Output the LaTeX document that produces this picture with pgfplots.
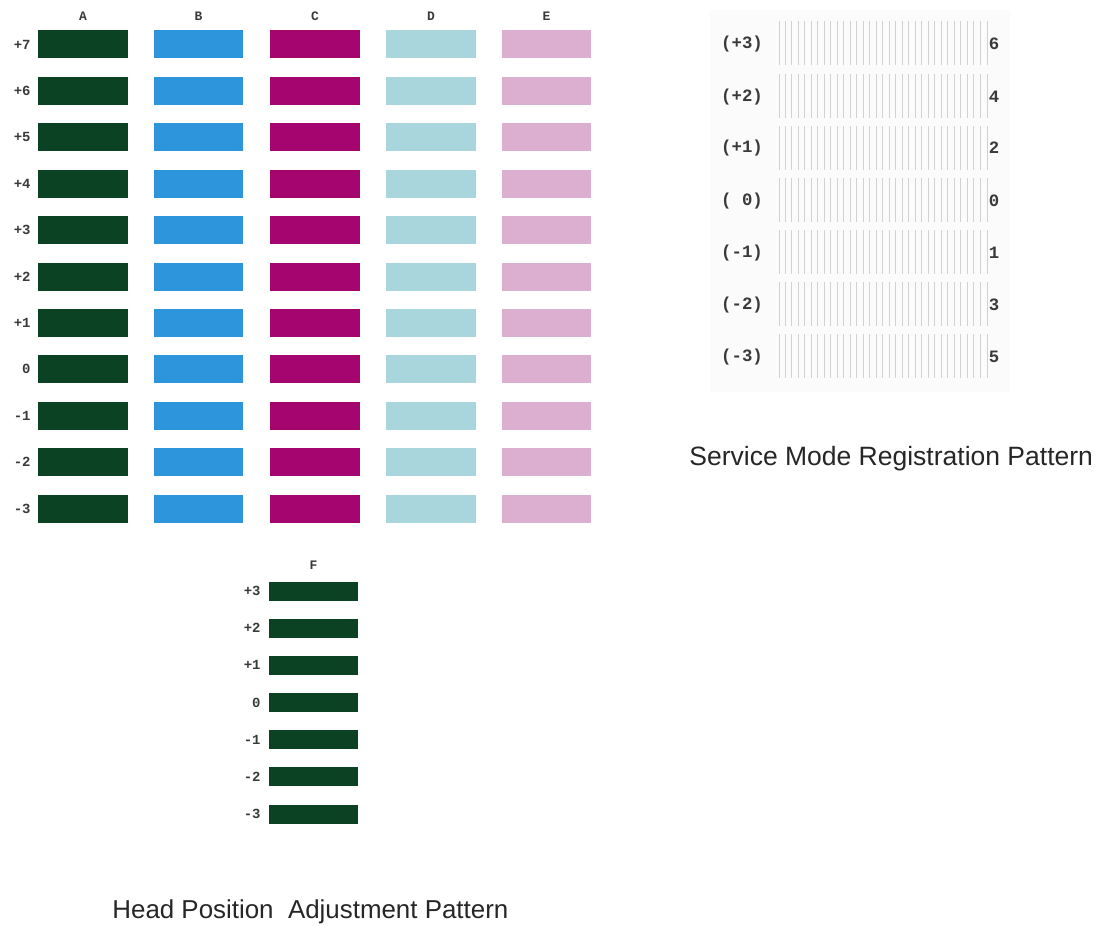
\documentclass[border=0pt]{standalone}
\usepackage{pgfplots}
\pgfplotsset{compat=1.18}
\usepackage{pgfplotstable}
\usepackage{fontspec}
\setmainfont{Liberation Sans}
\newfontfamily\monof{Liberation Mono}
\definecolor{colA}{HTML}{0C4224}
\definecolor{colB}{HTML}{2D95DC}
\definecolor{colC}{HTML}{A5056F}
\definecolor{colD}{HTML}{A9D5DC}
\definecolor{colE}{HTML}{DCAECF}
\definecolor{lbl}{HTML}{3A3A3A}

% bar centres (pixel units of the reference picture)
\pgfplotstableread{
x y
83 44.5
83 90.9
83 137.3
83 183.7
83 230.1
83 276.5
83 322.9
83 369.3
83 415.7
83 462.1
83 508.5
}\colAtab
\pgfplotstableread{
x y
198.5 44.5
198.5 90.9
198.5 137.3
198.5 183.7
198.5 230.1
198.5 276.5
198.5 322.9
198.5 369.3
198.5 415.7
198.5 462.1
198.5 508.5
}\colBtab
\pgfplotstableread{
x y
315 44.5
315 90.9
315 137.3
315 183.7
315 230.1
315 276.5
315 322.9
315 369.3
315 415.7
315 462.1
315 508.5
}\colCtab
\pgfplotstableread{
x y
431 44.5
431 90.9
431 137.3
431 183.7
431 230.1
431 276.5
431 322.9
431 369.3
431 415.7
431 462.1
431 508.5
}\colDtab
\pgfplotstableread{
x y
546.5 44.5
546.5 90.9
546.5 137.3
546.5 183.7
546.5 230.1
546.5 276.5
546.5 322.9
546.5 369.3
546.5 415.7
546.5 462.1
546.5 508.5
}\colEtab
\pgfplotstableread{
x y
313.5 591
313.5 628.2
313.5 665.3
313.5 702.5
313.5 739.7
313.5 776.8
313.5 814
}\colFtab
\pgfplotstableread{
x h
779 22
785 22
791 22
798 22
804 22
811 22
817 22
824 22
830 22
837 22
843 22
850 22
856 22
863 22
869 22
876 22
882 22
889 22
895 22
902 22
908 22
915 22
921 22
928 22
934 22
941 22
947 22
954 22
960 22
967 22
973 22
980 22
987 22
}\svclines

\tikzset{
  hdr/.style={text=lbl, font=\monof\bfseries\fontsize{6.5}{7}\selectfont},
  rl/.style={anchor=east, inner sep=0pt, text=lbl, font=\monof\bfseries\fontsize{7}{8}\selectfont},
  sl/.style={text=lbl, font=\monof\bfseries\fontsize{8.7}{10}\selectfont},
}

\begin{document}
\begin{tikzpicture}
\begin{axis}[
  scale only axis, width=551bp, height=463.5bp,
  xmin=0, xmax=1102, ymin=0, ymax=927, y dir=reverse,
  hide axis, clip=false,
]
% invisible frame
\path (axis cs:0,0) rectangle (axis cs:1102,927);

% service-mode panel background
\addplot[fill=black!1.5, draw=none] coordinates {(710,10) (1010,10) (1010,392) (710,392)} -- cycle;

% service-mode line patterns
\pgfplotsinvokeforeach{43,96,148,200,252,304,356}{
  \addplot[draw=none, mark=none, forget plot,
    error bars/.cd, y dir=both, y explicit, error mark=none,
    error bar style={draw=black!18, line width=0.5bp}]
    table[x=x, y expr=#1, y error=h]{\svclines};
}

% bars A-E
\addplot[only marks, mark=square*, mark size=6.75bp,
  mark options={xscale=3.26, fill=colA, draw=colA, line width=0pt}] table[x=x,y=y]{\colAtab};
\addplot[only marks, mark=square*, mark size=6.75bp,
  mark options={xscale=3.26, fill=colB, draw=colB, line width=0pt}] table[x=x,y=y]{\colBtab};
\addplot[only marks, mark=square*, mark size=6.75bp,
  mark options={xscale=3.26, fill=colC, draw=colC, line width=0pt}] table[x=x,y=y]{\colCtab};
\addplot[only marks, mark=square*, mark size=6.75bp,
  mark options={xscale=3.26, fill=colD, draw=colD, line width=0pt}] table[x=x,y=y]{\colDtab};
\addplot[only marks, mark=square*, mark size=6.75bp,
  mark options={xscale=3.26, fill=colE, draw=colE, line width=0pt}] table[x=x,y=y]{\colEtab};
% bars F
\addplot[only marks, mark=square*, mark size=4.5bp,
  mark options={xscale=4.94, fill=colA, draw=colA, line width=0pt}] table[x=x,y=y]{\colFtab};

% column headers
\node[hdr] at (axis cs:83,16) {A};
\node[hdr] at (axis cs:198.5,16) {B};
\node[hdr] at (axis cs:315,16) {C};
\node[hdr] at (axis cs:431,16) {D};
\node[hdr] at (axis cs:546.5,16) {E};
\node[hdr] at (axis cs:313.5,565) {F};

% row labels A-E
\node[rl] at (axis cs:31,44.5) {+7};
\node[rl] at (axis cs:31,90.9) {+6};
\node[rl] at (axis cs:31,137.3) {+5};
\node[rl] at (axis cs:31,183.7) {+4};
\node[rl] at (axis cs:31,230.1) {+3};
\node[rl] at (axis cs:31,276.5) {+2};
\node[rl] at (axis cs:31,322.9) {+1};
\node[rl] at (axis cs:31,369.3) {0};
\node[rl] at (axis cs:31,415.7) {-1};
\node[rl] at (axis cs:31,462.1) {-2};
\node[rl] at (axis cs:31,508.5) {-3};
% row labels F
\node[rl] at (axis cs:261,591) {+3};
\node[rl] at (axis cs:261,628.2) {+2};
\node[rl] at (axis cs:261,665.3) {+1};
\node[rl] at (axis cs:261,702.5) {0};
\node[rl] at (axis cs:261,739.7) {-1};
\node[rl] at (axis cs:261,776.8) {-2};
\node[rl] at (axis cs:261,814) {-3};

% service mode labels
\node[sl] at (axis cs:742,44) {(+3)};
\node[sl] at (axis cs:742,97) {(+2)};
\node[sl] at (axis cs:742,148) {(+1)};
\node[sl] at (axis cs:742,201) {(\ 0)};
\node[sl] at (axis cs:742,253) {(-1)};
\node[sl] at (axis cs:742,305) {(-2)};
\node[sl] at (axis cs:742,357) {(-3)};
\node[sl] at (axis cs:994,44) {6};
\node[sl] at (axis cs:994,97) {4};
\node[sl] at (axis cs:994,148) {2};
\node[sl] at (axis cs:994,201) {0};
\node[sl] at (axis cs:994,253) {1};
\node[sl] at (axis cs:994,305) {3};
\node[sl] at (axis cs:994,357) {5};

% captions
\node[anchor=west, inner sep=0pt, text=black!85, font=\fontsize{13.3}{16}\selectfont] at (axis cs:689,459) {Service Mode Registration Pattern};
\node[anchor=west, inner sep=0pt, text=black!85, font=\fontsize{13}{16}\selectfont] at (axis cs:112,912) {Head Position\ \ Adjustment Pattern};
\end{axis}
\end{tikzpicture}
\end{document}
